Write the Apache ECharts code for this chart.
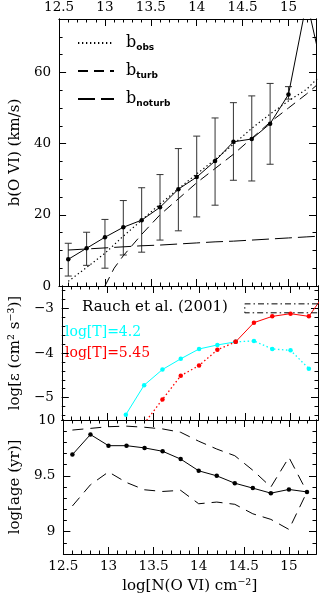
<!DOCTYPE html>
<html><head><meta charset="utf-8">
<script src="https://cdn.jsdelivr.net/npm/echarts@6/dist/echarts.min.js"></script>
<style>html,body{margin:0;padding:0;background:#fff}#c{width:319px;height:596px}</style>
</head><body><div id="c"></div>
<script>
// ---- top panel: b(O VI) vs log N(O VI)
const nBins    = [12.6,12.8,13.0,13.2,13.4,13.6,13.8,14.0,14.2,14.4,14.6,14.8,15.0,15.2,15.4];
const bMean    = [7.5,10.6,13.7,16.5,18.5,22.1,27.2,30.6,35.1,40.5,41.3,45.6,53.8,80,57];
const bErrLow  = [2.8,5.8,5.0,8.7,9.5,12.9,15.5,19.4,22.7,29.7,29.5,34.2,52.5];
const bErrHigh = [12.0,15.1,18.7,24.0,27.6,31.3,38.6,42.1,47.2,51.5,53.4,56.9,56.0];
const bObs     = [1.3,5.2,9.2,14.0,18.5,23.0,27.3,31.5,35.5,39.8,44.3,48.3,52.0,55.3,60.5];
const turbBins = [13.0,13.1,13.2,13.4,13.6,13.8,14.0,14.2,14.4,14.6,14.8,15.0,15.2,15.4];
const bTurb    = [0,5,8.5,14.5,20,24.5,29,33,37,41.5,46,50,54,58.5];
const bNoturb  = [10.1,10.4,10.7,11.0,11.3,11.5,11.8,12.1,12.4,12.6,12.9,13.2,13.5,13.8,14.1];
// ---- middle panel: log emissivity
const eps42Bins = [13.2,13.4,13.6,13.8,14.0,14.2,14.4,14.6,14.8,15.0,15.2];
const eps42     = [-5.38,-4.72,-4.37,-4.13,-3.91,-3.82,-3.75,-3.73,-3.91,-3.94,-4.35];
const eps545Bins= [13.4,13.6,13.8,14.0,14.2,14.4,14.6,14.8,15.0,15.2,15.4];
const eps545    = [-5.58,-5.04,-4.51,-4.28,-3.93,-3.75,-3.32,-3.18,-3.12,-3.18,-2.6];
const splitN    = 14.4;
const rauchN    = [14.5,15.3];
const rauchEps  = [-2.9,-3.1];
// ---- bottom panel: log age
const ageBins  = [12.6,12.8,13.0,13.2,13.4,13.6,13.8,14.0,14.2,14.4,14.6,14.8,15.0,15.2];
const ageMean  = [9.69,9.87,9.77,9.77,9.75,9.72,9.65,9.545,9.5,9.434,9.39,9.345,9.378,9.356];
const ageHigh  = [9.91,9.925,9.94,9.945,9.935,9.92,9.89,9.81,9.74,9.68,9.55,9.40,9.665,9.356];
const ageLow   = [9.23,9.42,9.535,9.44,9.375,9.36,9.37,9.25,9.265,9.245,9.16,9.11,9.02,9.356];
// ---- tick labels
const xTickLabels = ['12.5','13','13.5','14','14.5','15'];

const FONT = 'DejaVu Serif';
const zip = (xs, ys) => xs.map((x,i)=>[x,ys[i]]);

const grids = [
  {left:51, width:267, top:17, height:269},
  {left:51, width:267, top:286, height:134},
  {left:51, width:267, top:420, height:134}
];

function xAx(g, pos, major, showLabel, extra) {
  return Object.assign({
    type:'value', gridIndex:g, position:pos, min:12.5, max:15.3,
    interval: major ? 0.5 : 0.1,
    axisLine:{show:true, onZero:false, lineStyle:{color:'#000', width:1}},
    axisTick:{show:true, inside:true, length: major?7:3.5, lineStyle:{color:'#000', width:1}},
    axisLabel:{show:showLabel, margin:5, color:'#000', fontFamily:FONT, fontSize:13.5,
      formatter: v => { const s = String(+v.toFixed(1)); return xTickLabels.indexOf(s) >= 0 ? s : ''; }},
    splitLine:{show:false}, minorTick:{show:false}, minorSplitLine:{show:false}
  }, extra || {});
}
const yCfg = [
  {min:0, max:75, major:{interval:20}, minor:{interval:5},
   fmt: v => (v % 20 === 0 ? String(v) : '')},
  {min:-5.5, max:-2.5, major:{splitNumber:3}, minor:{splitNumber:15},
   fmt: v => (Math.abs(v - Math.round(v)) < 1e-6 ? '\u2212' + Math.abs(Math.round(v)) : '')},
  {min:8.8, max:10, major:{splitNumber:2}, minor:{interval:0.1},
   fmt: v => (Math.abs(v*2 - Math.round(v*2)) < 1e-6 ? String(+v.toFixed(1)) : '')}
];
const yNames = ['b(O VI) (km/s)', 'log[\u03b5 (cm\u00b2 s\u207b\u00b3)]', 'log[age (yr)]'];
function yAx(g, pos, major, showLabel) {
  const c = yCfg[g];
  const o = Object.assign({
    type:'value', gridIndex:g, position:pos, min:c.min, max:c.max,
    axisLine:{show:true, onZero:false, lineStyle:{color:'#000', width:1}},
    axisTick:{show:true, inside:true, length: major?7:3.5, lineStyle:{color:'#000', width:1}},
    axisLabel:{show:showLabel, margin:8, color:'#000', fontFamily:FONT, fontSize:13.5, formatter:c.fmt},
    splitLine:{show:false}, minorTick:{show:false}, minorSplitLine:{show:false}
  }, major ? c.major : c.minor);
  if (showLabel) {
    o.name = yNames[g]; o.nameLocation = 'middle'; o.nameRotate = 90; o.nameGap = 32;
    o.nameTextStyle = {fontFamily:FONT, fontSize:15, color:'#000'};
  }
  return o;
}
const xAxis = [], yAxis = [];
for (let g = 0; g < 3; g++) {
  xAxis.push(xAx(g, 'bottom', true, g === 2, g === 2 ? {
    name:'log[N(O VI) cm\u207b\u00b2]', nameLocation:'middle', nameGap:25,
    nameTextStyle:{fontFamily:FONT, fontSize:15, color:'#000'}} : null));
  xAxis.push(xAx(g, 'bottom', false, false));
  xAxis.push(xAx(g, 'top', true, g === 0));
  xAxis.push(xAx(g, 'top', false, false));
  yAxis.push(yAx(g, 'left', true, true));
  yAxis.push(yAx(g, 'left', false, false));
  yAxis.push(yAx(g, 'right', true, false));
  yAxis.push(yAx(g, 'right', false, false));
}

function lineSeries(name, g, data, color, dash, width, withSym) {
  return {
    name, type:'line', xAxisIndex:4*g, yAxisIndex:4*g, data,
    symbol: withSym ? 'circle' : 'none', symbolSize: 4.5, showSymbol: !!withSym,
    itemStyle:{color}, clip:true, silent:true,
    lineStyle:{color, width: width || 1, type: dash || 'solid'}, z:3
  };
}
const errData = bErrLow.map((lo,i)=>[nBins[i], lo, bErrHigh[i]]);

const eps42Solid  = zip(eps42Bins, eps42).filter(p => p[0] <= splitN + 1e-6);
const eps42Dot    = zip(eps42Bins, eps42).filter(p => p[0] >= splitN - 1e-6);
const eps545Dot   = zip(eps545Bins, eps545).filter(p => p[0] <= splitN + 1e-6);
const eps545Solid = zip(eps545Bins, eps545).filter(p => p[0] >= splitN - 1e-6);
const rauchBox = [[rauchN[1],rauchEps[0]],[rauchN[0],rauchEps[0]],[rauchN[0],rauchEps[1]],[rauchN[1],rauchEps[1]]];

const series = [
  lineSeries('b_obs', 0, zip(nBins, bObs), '#000', [1.3,2.7], 1.2),
  lineSeries('b_turb', 0, zip(turbBins, bTurb), '#000', [10,6], 1),
  lineSeries('b_noturb', 0, zip(nBins, bNoturb), '#000', [17,6], 1),
  lineSeries('mean', 0, zip(nBins, bMean), '#000', 'solid', 1, true),
  {
    type:'custom', xAxisIndex:0, yAxisIndex:0, data:errData, clip:true, silent:true, z:2,
    renderItem:(params, api) => {
      const x = api.value(0);
      const lo = api.coord([x, api.value(1)]);
      const hi = api.coord([x, api.value(2)]);
      const w = 3.5;
      const st = {stroke:'#333', lineWidth:1};
      return {type:'group', children:[
        {type:'line', shape:{x1:lo[0], y1:lo[1], x2:hi[0], y2:hi[1]}, style:st},
        {type:'line', shape:{x1:lo[0]-w, y1:lo[1], x2:lo[0]+w, y2:lo[1]}, style:st},
        {type:'line', shape:{x1:hi[0]-w, y1:hi[1], x2:hi[0]+w, y2:hi[1]}, style:st}
      ]};
    }
  },
  lineSeries('c42s', 1, eps42Solid, '#00ffff', 'solid', 1, true),
  lineSeries('c42d', 1, eps42Dot, '#00ffff', [1.5,2.5], 1.3, true),
  lineSeries('c545d', 1, eps545Dot, '#ff0000', [1.5,2.5], 1.3, true),
  lineSeries('c545s', 1, eps545Solid, '#ff0000', 'solid', 1, true),
  lineSeries('rauch', 1, rauchBox, '#000', [6,3,1.5,3], 1),
  lineSeries('ageMean', 2, zip(ageBins, ageMean), '#000', 'solid', 1, true),
  lineSeries('ageHigh', 2, zip(ageBins, ageHigh), '#000', [11,7], 1),
  lineSeries('ageLow', 2, zip(ageBins, ageLow), '#000', [11,7], 1)
];

const subs = {b_obs:'obs', b_turb:'turb', b_noturb:'noturb'};
const option = {
  animation:false,
  backgroundColor:'#fff',
  grid: grids,
  xAxis, yAxis, series,
  legend:{
    data:['b_obs','b_turb','b_noturb'], orient:'vertical', left:77, top:35, padding:0,
    itemWidth:36, itemHeight:14, itemGap:11, selectedMode:false,
    itemStyle:{opacity:0, borderWidth:0},
    formatter: n => '{b|b}{s|' + subs[n] + '}',
    textStyle:{color:'#000', rich:{
      b:{fontFamily:FONT, fontSize:16, lineHeight:18, color:'#000', padding:[0,0,0,7]},
      s:{fontFamily:'DejaVu Sans', fontSize:9, fontWeight:'bold', lineHeight:9, verticalAlign:'bottom', color:'#000'}
    }}
  },
  graphic:[
    {type:'text', x:82, y:307.5, style:{text:'Rauch et al. (2001)', fontFamily:FONT, fontSize:15, fill:'#000', verticalAlign:'middle'}},
    {type:'text', x:65, y:332.5, style:{text:'log[T]=4.2', fontFamily:FONT, fontSize:14, fill:'#00ffff', verticalAlign:'middle'}},
    {type:'text', x:65, y:353, style:{text:'log[T]=5.45', fontFamily:FONT, fontSize:14, fill:'#ff0000', verticalAlign:'middle'}}
  ]
};
const chart = echarts.init(document.getElementById('c'), null, {renderer:'canvas'});
chart.setOption(option);
</script></body></html>
